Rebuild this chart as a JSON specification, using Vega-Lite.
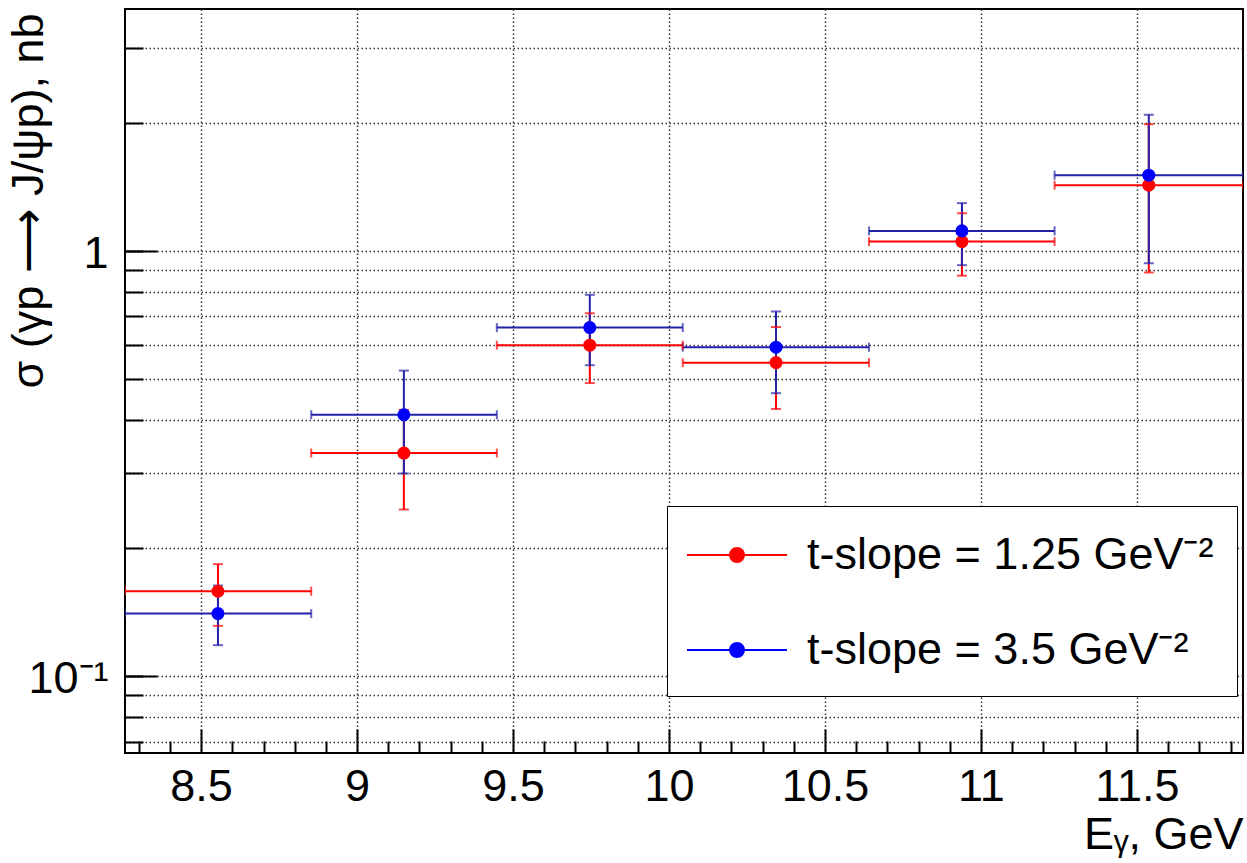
{
  "$schema": "https://vega.github.io/schema/vega-lite/v6.json",
  "width": 1118,
  "height": 744,
  "autosize": {"type": "none"},
  "padding": {"left": 125, "top": 9, "right": 4, "bottom": 110},
  "background": "white",
  "config": {
    "view": {"stroke": "black", "strokeWidth": 2},
    "font": "Liberation Sans",
    "axis": {
      "domain": false,
      "tickColor": "black",
      "tickWidth": 2,
      "labelFont": "Liberation Sans",
      "labelFontSize": 45,
      "labelColor": "black",
      "titleFont": "Liberation Sans",
      "titleFontSize": 45,
      "titleColor": "black",
      "titleFontWeight": "normal",
      "gridColor": "#333333",
      "gridDash": [1.5, 2.5],
      "gridWidth": 1.5,
      "gridOpacity": 1,
      "labelOverlap": false,
      "labelFlush": false
    }
  },
  "data": {
    "values": [
      {"s": "t-slope = 1.25 GeV⁻²", "k": "r", "x": 8.554, "xlo": 8.256, "xhi": 8.853, "y": 0.158, "ylo": 0.131, "yhi": 0.183},
      {"s": "t-slope = 1.25 GeV⁻²", "k": "r", "x": 9.150, "xlo": 8.853, "xhi": 9.448, "y": 0.334, "ylo": 0.246, "yhi": 0.422},
      {"s": "t-slope = 1.25 GeV⁻²", "k": "r", "x": 9.746, "xlo": 9.448, "xhi": 10.044, "y": 0.599, "ylo": 0.488, "yhi": 0.712},
      {"s": "t-slope = 1.25 GeV⁻²", "k": "r", "x": 10.343, "xlo": 10.044, "xhi": 10.641, "y": 0.545, "ylo": 0.424, "yhi": 0.661},
      {"s": "t-slope = 1.25 GeV⁻²", "k": "r", "x": 10.939, "xlo": 10.641, "xhi": 11.236, "y": 1.050, "ylo": 0.873, "yhi": 1.224},
      {"s": "t-slope = 1.25 GeV⁻²", "k": "r", "x": 11.538, "xlo": 11.236, "xhi": 11.84, "y": 1.425, "ylo": 0.888, "yhi": 1.983},
      {"s": "t-slope = 3.5 GeV⁻²", "k": "b", "x": 8.554, "xlo": 8.256, "xhi": 8.853, "y": 0.140, "ylo": 0.118, "yhi": 0.163},
      {"s": "t-slope = 3.5 GeV⁻²", "k": "b", "x": 9.150, "xlo": 8.853, "xhi": 9.448, "y": 0.411, "ylo": 0.299, "yhi": 0.522},
      {"s": "t-slope = 3.5 GeV⁻²", "k": "b", "x": 9.746, "xlo": 9.448, "xhi": 10.044, "y": 0.659, "ylo": 0.5375, "yhi": 0.787},
      {"s": "t-slope = 3.5 GeV⁻²", "k": "b", "x": 10.343, "xlo": 10.044, "xhi": 10.641, "y": 0.5925, "ylo": 0.462, "yhi": 0.719},
      {"s": "t-slope = 3.5 GeV⁻²", "k": "b", "x": 10.939, "xlo": 10.641, "xhi": 11.236, "y": 1.1125, "ylo": 0.924, "yhi": 1.293},
      {"s": "t-slope = 3.5 GeV⁻²", "k": "b", "x": 11.538, "xlo": 11.236, "xhi": 11.84, "y": 1.504, "ylo": 0.934, "yhi": 2.086}
    ]
  },
  "layer": [
    {
      "mark": {"type": "rule", "strokeWidth": 2, "clip": true},
      "encoding": {
        "x": {"field": "xlo", "type": "quantitative",
              "scale": {"domain": [8.256, 11.84], "nice": false, "zero": false},
              "axis": {"orient": "bottom", "values": [8.3,8.4,8.6,8.7,8.8,8.9,9.1,9.2,9.3,9.4,9.6,9.7,9.8,9.9,10.1,10.2,10.3,10.4,10.6,10.7,10.8,10.9,11.1,11.2,11.3,11.4,11.6,11.7,11.8],
                       "labels": false, "grid": false, "tickSize": -12, "title": null}},
        "x2": {"field": "xhi"},
        "y": {"field": "y", "type": "quantitative",
              "scale": {"type": "log", "domain": [0.0658, 3.7], "nice": false},
              "axis": {"orient": "left", "values": [0.07,0.08,0.09,0.1,0.2,0.3,0.4,0.5,0.6,0.7,0.8,0.9,1,2,3],
                       "labels": false, "grid": true, "tickSize": -18, "title": null}},
        "stroke": {"field": "k", "type": "nominal",
                   "scale": {"domain": ["r", "b"], "range": ["#ff0000", "#2222a8"]},
                   "legend": null}
      }
    },
    {
      "mark": {"type": "rule", "strokeWidth": 2, "clip": true},
      "encoding": {
        "x": {"field": "x", "type": "quantitative", "axis": null},
        "y": {"field": "ylo", "type": "quantitative", "axis": null},
        "y2": {"field": "yhi"},
        "stroke": {"field": "k", "type": "nominal", "legend": null}
      }
    },
    {
      "mark": {"type": "tick", "orient": "vertical", "size": 9, "thickness": 2, "clip": true},
      "encoding": {
        "x": {"field": "xlo", "type": "quantitative", "axis": null},
        "y": {"field": "y", "type": "quantitative", "axis": null},
        "fill": {"field": "k", "type": "nominal",
                 "scale": {"domain": ["r", "b"], "range": ["#ff0000", "#2222a8"]},
                 "legend": null}
      }
    },
    {
      "mark": {"type": "tick", "orient": "vertical", "size": 9, "thickness": 2, "clip": true},
      "encoding": {
        "x": {"field": "xhi", "type": "quantitative", "axis": null},
        "y": {"field": "y", "type": "quantitative", "axis": null},
        "fill": {"field": "k", "type": "nominal", "legend": null}
      }
    },
    {
      "mark": {"type": "tick", "orient": "horizontal", "size": 10, "thickness": 2, "clip": true},
      "encoding": {
        "x": {"field": "x", "type": "quantitative", "axis": null},
        "y": {"field": "ylo", "type": "quantitative", "axis": null},
        "fill": {"field": "k", "type": "nominal", "legend": null}
      }
    },
    {
      "mark": {"type": "tick", "orient": "horizontal", "size": 10, "thickness": 2, "clip": true},
      "encoding": {
        "x": {"field": "x", "type": "quantitative", "axis": null},
        "y": {"field": "yhi", "type": "quantitative", "axis": null},
        "fill": {"field": "k", "type": "nominal", "legend": null}
      }
    },
    {
      "mark": {"type": "point", "shape": "circle", "filled": true, "size": 170, "opacity": 1, "clip": true},
      "encoding": {
        "x": {"field": "x", "type": "quantitative",
              "axis": {"orient": "bottom", "values": [8.5, 9, 9.5, 10, 10.5, 11, 11.5], "format": "~g",
                       "grid": true, "tickSize": -24, "labelPadding": 71, "labelBaseline": "alphabetic",
                       "title": "Eᵧ, GeV", "titleX": 1118, "titleY": 95, "titleAlign": "right", "titleBaseline": "alphabetic", "titleAngle": 0}},
        "y": {"field": "y", "type": "quantitative",
              "axis": {"orient": "left", "values": [0.1, 1], "grid": false, "tickSize": -32, "labelPadding": 49,
                       "labelAlign": "right", "labelBaseline": "middle", "labelOffset": 3,
                       "labelExpr": "datum.value > 0.5 ? '1' : '10⁻¹'",
                       "title": "σ (γp ⟶ J/ψp), nb", "titleX": -83, "titleY": 4, "titleAngle": -90,
                       "titleAlign": "right", "titleBaseline": "alphabetic"}},
        "color": {"field": "s", "type": "nominal",
                  "scale": {"domain": ["t-slope = 1.25 GeV⁻²", "t-slope = 3.5 GeV⁻²"], "range": ["#ff0000", "#0000ff"]},
                  "legend": {
                    "orient": "none", "legendX": 542, "legendY": 497, "title": null, "direction": "vertical",
                    "symbolType": "M-2,0L2,0M-0.28,0A0.28,0.28,0,1,1,0.28,0A0.28,0.28,0,1,1,-0.28,0Z",
                    "symbolSize": 2500, "symbolStrokeWidth": 2, "symbolOpacity": 1, "symbolOffset": 21,
                    "labelFontSize": 45, "labelFont": "Liberation Sans", "labelColor": "black", "labelLimit": 0,
                    "labelOffset": 44, "rowPadding": 46, "padding": 23,
                    "strokeColor": "black", "fillColor": "white", "cornerRadius": 0,
                    "encode": {"symbols": {"update": {
                      "fill": {"scale": "color", "field": "value"},
                      "stroke": {"scale": "color", "field": "value"},
                      "opacity": {"value": 1}}}}
                  }}
      }
    }
  ],
  "resolve": {"axis": {"x": "independent", "y": "independent"}}
}
